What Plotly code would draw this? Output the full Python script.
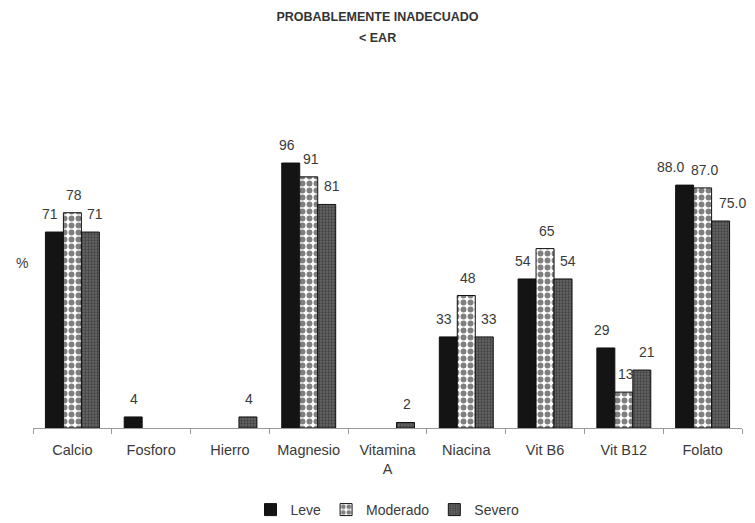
import plotly.graph_objects as go

categories = ["Calcio", "Fosforo", "Hierro", "Magnesio", "Vitamina<br>A",
              "Niacina", "Vit B6", "Vit B12", "Folato"]
series_names = ["Leve", "Moderado", "Severo"]
leve = [71, 4, None, 96, None, 33, 54, 29, 88]
moderado = [78, None, None, 91, None, 48, 65, 13, 87]
severo = [71, None, 4, 81, 2, 33, 54, 21, 75]
label_decimals = [0, 0, 0, 0, 0, 0, 0, 0, 1]

series_values = [leve, moderado, severo]

FONT = "Liberation Sans, Arial, sans-serif"
TEXT = "#3a3a3a"
BARGAP = 0.315
W, H = 755, 523
L, R, T, B = 33, 13, 152, 95

patterns = [
    None,
    dict(shape=".", fgcolor="#000000", bgcolor="#ffffff", size=7, solidity=0.55),
    dict(shape=".", fgcolor="#1a1a1a", bgcolor="#666666", size=3, solidity=0.45),
]
base_colors = ["#141414", "#ffffff", "#666666"]

x_idx = list(range(len(categories)))
fig = go.Figure()
for name, vals, pat, col in zip(series_names, series_values, patterns, base_colors):
    fig.add_trace(go.Bar(
        x=x_idx, y=vals, name=name,
        marker=dict(color=col, pattern=pat,
                    line=dict(color="#111111", width=1)),
        hoverinfo="skip",
    ))

# value labels above each bar, nudged apart so neighbouring labels do not collide
bar_w = (1 - BARGAP) / len(series_names)
offsets = [-bar_w, 0, bar_w]
annotations = []
for s, (vals, off) in enumerate(zip(series_values, offsets)):
    for i, v in enumerate(vals):
        if v is None:
            continue
        txt = f"{v:.{label_decimals[i]}f}"
        n = len(txt)
        nudge = [-(5 * n - 6), 2, 3.5 * n - 2][s]
        annotations.append(dict(
            x=i + off, y=v, xref="x", yref="y",
            text=txt, showarrow=False,
            yanchor="bottom", yshift=8, xshift=nudge,
            font=dict(family=FONT, size=14, color=TEXT),
        ))


def px_to_paper(px, py):
    return (px - L) / (W - L - R), (H - B - py) / (H - T - B)


# "%" axis caption
px, py = px_to_paper(22, 263)
annotations.append(dict(
    x=px, y=py, xref="paper", yref="paper", text="%", showarrow=False,
    xanchor="center", yanchor="middle",
    font=dict(family=FONT, size=14, color=TEXT),
))
# second title line
cx, py = px_to_paper(W / 2, 38)
annotations.append(dict(
    x=cx, y=py, xref="paper", yref="paper",
    text="<b>&lt; EAR</b>",
    showarrow=False, xanchor="center", yanchor="middle",
    font=dict(family=FONT, size=12.5, color="#333333"),
))

fig.update_layout(
    width=W, height=H,
    margin=dict(l=L, r=R, t=T, b=B),
    paper_bgcolor="white", plot_bgcolor="white",
    barmode="group", bargap=BARGAP, bargroupgap=0,
    title=dict(text="<b>PROBABLEMENTE INADECUADO</b>",
               x=0.5, xanchor="center", y=1 - 17 / H, yanchor="middle",
               font=dict(family=FONT, size=12.5, color="#333333")),
    showlegend=True,
    legend=dict(orientation="h", x=0.5, xanchor="center",
                yref="container", y=1 - 510 / H, yanchor="middle",
                font=dict(family=FONT, size=14, color=TEXT),
                itemwidth=30, traceorder="normal"),
    annotations=annotations,
    font=dict(family=FONT, color=TEXT),
)
fig.update_xaxes(
    range=[-0.5, len(categories) - 0.5], automargin=False,
    tickvals=x_idx, ticktext=categories, ticks="",
    tickfont=dict(family=FONT, size=14.5, color=TEXT),
    ticklabelstandoff=9,
    showline=True, linecolor="#9a9a9a", linewidth=1,
    showgrid=False, zeroline=False,
    minor=dict(tickvals=[i - 0.5 for i in range(len(categories) + 1)],
               ticks="outside", ticklen=5, tickcolor="#9a9a9a", showgrid=False),
)
fig.update_yaxes(range=[0, 100], visible=False, showgrid=False, zeroline=False,
                 automargin=False)

fig.write_html("out.html")
